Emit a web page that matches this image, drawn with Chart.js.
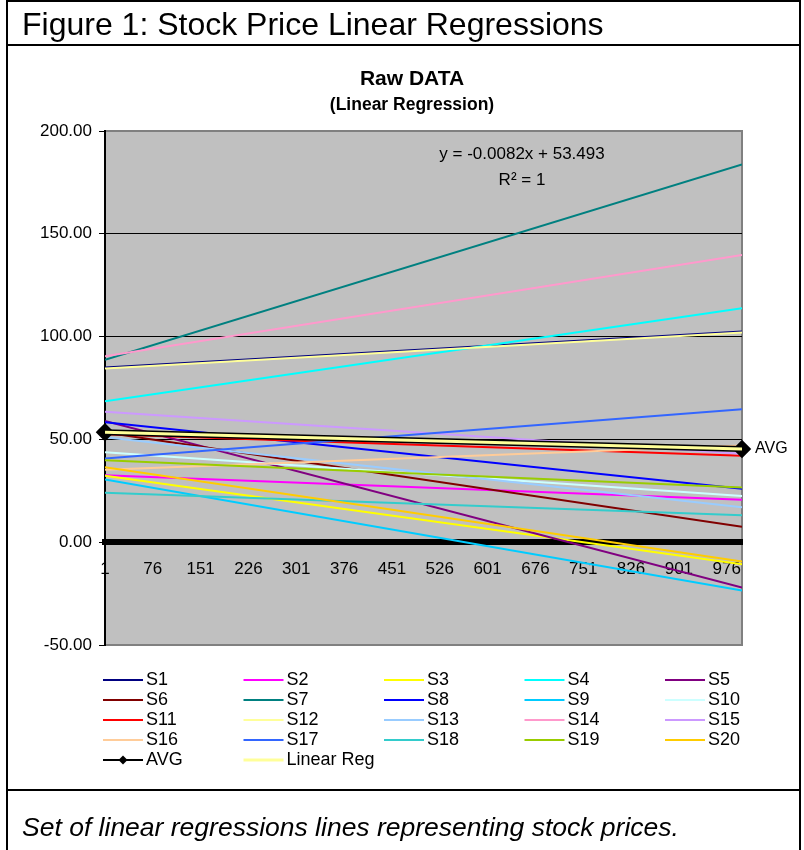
<!DOCTYPE html>
<html>
<head>
<meta charset="utf-8">
<title>Stock Price Linear Regressions</title>
<script src="https://cdn.jsdelivr.net/npm/chart.js@4.4.1/dist/chart.umd.min.js"></script>
<style>
  html, body { margin: 0; padding: 0; background: #fff; }
  #page { position: relative; width: 804px; height: 850px; overflow: hidden;
          font-family: 'Liberation Sans', Arial, sans-serif; color: #000; }
  #chart { position: absolute; left: 0; top: 0; }
  .rule { position: absolute; background: #000; }
  #figTitle { position: absolute; left: 22px; top: 7px; font-size: 32px; line-height: 35px; white-space: nowrap; }
  #caption { position: absolute; left: 22px; top: 812px; font-size: 26.5px; font-style: italic; line-height: 30px; white-space: nowrap; }
</style>
</head>
<body>
<div id="page">
  <canvas id="chart" width="804" height="850"></canvas>
  <div class="rule" style="left:6px;top:0;width:2px;height:850px"></div>
  <div class="rule" style="left:799px;top:0;width:2px;height:850px"></div>
  <div class="rule" style="left:6px;top:0;width:795px;height:2px"></div>
  <div class="rule" style="left:6px;top:44px;width:795px;height:2px"></div>
  <div class="rule" style="left:6px;top:789px;width:795px;height:2px"></div>
  <div id="figTitle">Figure 1: Stock Price Linear Regressions</div>
  <div id="caption">Set of linear regressions lines representing stock prices.</div>
</div>

<script>
// Observation range (trading-day index)
const xFirst = 1;
const xLast = 1000;

// Category axis labels
const xTickLabels = [1, 76, 151, 226, 301, 376, 451, 526, 601, 676, 751, 826, 901, 976];
// Value axis labels
const yTickValues = [-50, 0, 50, 100, 150, 200];

// Twenty fitted regression lines: value at the first and the last observation
const seriesNames = ['S1', 'S2', 'S3', 'S4', 'S5', 'S6', 'S7', 'S8', 'S9', 'S10',
                     'S11', 'S12', 'S13', 'S14', 'S15', 'S16', 'S17', 'S18', 'S19', 'S20'];
const seriesStart = [85.0, 32.6, 32.3, 68.5, 59.0, 53.4, 88.7, 58.3, 30.5, 43.7,
                     52.5, 84.5, 51.0, 90.4, 63.5, 35.2, 40.7, 24.0, 39.9, 36.4];
const seriesEnd   = [102.5, 20.6, -10.7, 113.8, -22.0, 7.5, 183.7, 26.0, -23.5, 22.5,
                     42.0, 102.0, 17.0, 139.7, 43.0, 47.0, 64.7, 13.1, 26.6, -9.4];
const seriesColors = ['#000080', '#FF00FF', '#FFFF00', '#00FFFF', '#800080',
                      '#800000', '#008080', '#0000FF', '#00CCFF', '#CCFFFF',
                      '#FF0000', '#FFFF99', '#99CCFF', '#FF99CC', '#CC99FF',
                      '#FFCC99', '#3366FF', '#33CCCC', '#99CC00', '#FFCC00'];

// Average of the twenty lines (first and last observation)
const avgValues = [53.49, 45.29];

// Trendline fitted to the average
const regSlope = -0.0082;
const regIntercept = 53.493;
const regR2 = 1;

const FONT = "'Liberation Sans', Arial, sans-serif";

const datasets = seriesNames.map((name, i) => ({
  label: name,
  data: [{ x: xFirst, y: seriesStart[i] }, { x: xLast, y: seriesEnd[i] }],
  borderColor: seriesColors[i],
  backgroundColor: seriesColors[i],
  borderWidth: 2,
  pointRadius: 0,
  order: 30 - i
}));

datasets.push({
  label: 'AVG',
  data: [{ x: xFirst, y: avgValues[0] }, { x: xLast, y: avgValues[1] }],
  borderColor: '#000000',
  backgroundColor: '#000000',
  borderWidth: 6,
  pointStyle: 'rectRot',
  pointRadius: 5,
  pointBackgroundColor: '#000000',
  pointBorderColor: '#000000',
  clip: false,
  order: 2
});

datasets.push({
  label: 'Linear Reg',
  data: [xFirst, xLast].map(x => ({ x: x, y: regIntercept + regSlope * x })),
  borderColor: '#FFFF99',
  backgroundColor: '#FFFF99',
  borderWidth: 3,
  pointRadius: 0,
  order: 1
});

// Plot background, titles, trendline equation, series label and legend grid
const decorations = {
  id: 'decorations',
  beforeDraw(chart) {
    const { ctx, chartArea: a } = chart;
    ctx.save();
    ctx.fillStyle = '#C0C0C0';
    ctx.fillRect(a.left, a.top, a.right - a.left, a.bottom - a.top);
    ctx.strokeStyle = '#808080';
    ctx.lineWidth = 2;
    ctx.strokeRect(a.left, a.top, a.right - a.left, a.bottom - a.top);
    ctx.restore();
  },
  afterDraw(chart) {
    const { ctx } = chart;
    ctx.save();
    ctx.fillStyle = '#000';
    ctx.textAlign = 'center';
    ctx.textBaseline = 'middle';
    ctx.font = 'bold 21px ' + FONT;
    ctx.fillText('Raw DATA', 412, 79);
    ctx.font = 'bold 17.5px ' + FONT;
    ctx.fillText('(Linear Regression)', 412, 105);

    ctx.font = '17px ' + FONT;
    ctx.fillText('y = ' + regSlope + 'x + ' + regIntercept, 522, 154);
    ctx.fillText('R\u00B2 = ' + regR2, 522, 180);

    // name label at the last point of the average line
    const avgIndex = chart.data.datasets.findIndex(d => d.label === 'AVG');
    const last = chart.getDatasetMeta(avgIndex).data[1];
    ctx.textAlign = 'left';
    ctx.font = '16px ' + FONT;
    ctx.fillText('AVG', last.x + 13, last.y);

    // legend laid out in five columns
    ctx.font = '18px ' + FONT;
    chart.data.datasets.forEach((ds, i) => {
      const col = i % 5, row = Math.floor(i / 5);
      const x0 = 103 + col * 140.5;
      const y = 680 + row * 20;
      ctx.strokeStyle = ds.borderColor;
      ctx.lineWidth = ds.label === 'Linear Reg' ? 3 : 2;
      ctx.beginPath();
      ctx.moveTo(x0, y);
      ctx.lineTo(x0 + 40, y);
      ctx.stroke();
      if (ds.label === 'AVG') {
        ctx.fillStyle = '#000';
        ctx.beginPath();
        ctx.moveTo(x0 + 20, y - 4.5);
        ctx.lineTo(x0 + 24.5, y);
        ctx.lineTo(x0 + 20, y + 4.5);
        ctx.lineTo(x0 + 15.5, y);
        ctx.closePath();
        ctx.fill();
      }
      ctx.fillStyle = '#000';
      ctx.fillText(ds.label, x0 + 43, y);
    });
    ctx.restore();
  }
};

new Chart(document.getElementById('chart'), {
  type: 'line',
  data: { datasets: datasets },
  options: {
    responsive: false,
    animation: false,
    devicePixelRatio: 1,
    layout: { padding: { left: 25, right: 62, top: 131, bottom: 205 } },
    plugins: {
      legend: { display: false },
      title: { display: false },
      tooltip: { enabled: false }
    },
    elements: { line: { tension: 0 } },
    scales: {
      x: {
        type: 'linear',
        min: xFirst,
        max: xLast,
        position: { y: 0 },
        afterBuildTicks: s => { s.ticks = xTickLabels.map(v => ({ value: v })); },
        afterFit: s => { s.height = 0; },
        grid: { display: false, drawTicks: false },
        border: { display: true, color: '#000', width: 6 },
        ticks: {
          color: '#000', font: { family: FONT, size: 17 }, padding: 17,
          maxRotation: 0, autoSkip: false, callback: v => String(v)
        }
      },
      y: {
        type: 'linear',
        min: -50,
        max: 200,
        afterBuildTicks: s => { s.ticks = yTickValues.map(v => ({ value: v })); },
        afterFit: s => { s.width = 80; },
        grid: {
          color: c => (c.tick && c.tick.value > 0 && c.tick.value < 200) ? '#000' : 'rgba(0,0,0,0)',
          lineWidth: 1,
          drawTicks: true,
          tickLength: 6,
          tickColor: '#000'
        },
        border: { display: true, color: '#000', width: 2 },
        ticks: {
          color: '#000', font: { family: FONT, size: 17 }, padding: 7,
          callback: v => Number(v).toFixed(2)
        }
      }
    }
  },
  plugins: [decorations]
});
</script>
</body>
</html>
